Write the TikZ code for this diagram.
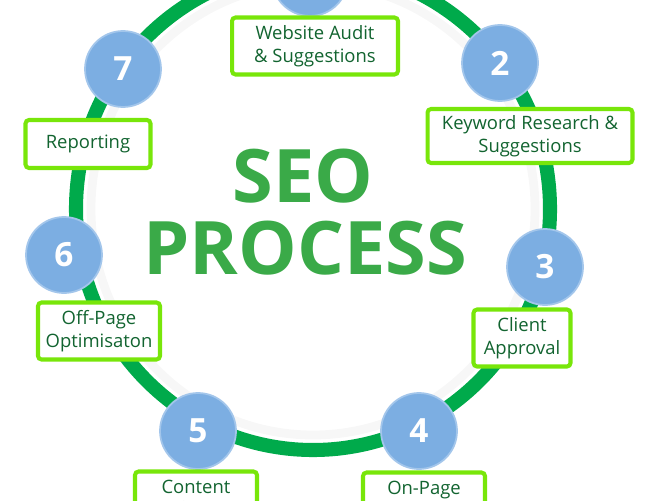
\documentclass[tikz,border=0pt]{standalone}
\usepackage{fontspec}
\setmainfont{Open Sans}
\usepackage{tikz}
\usetikzlibrary{positioning}
\definecolor{seogreen}{RGB}{0,170,75}
\definecolor{titlegreen}{RGB}{58,170,72}
\definecolor{textgreen}{RGB}{18,100,48}
\definecolor{boxlime}{RGB}{120,230,10}
\definecolor{stepblue}{RGB}{124,174,226}

\begin{document}
\begin{tikzpicture}[x=0.02cm,y=-0.02cm,
    stepbox/.style={draw=boxlime,line width=2.3pt,fill=white,rounded corners=2pt,
        text=textgreen,align=center,font=\fontsize{10.5}{13}\selectfont,inner sep=0pt},
    stepdot/.style={circle,fill=stepblue,draw=stepblue!70!white,line width=1pt,
        minimum size=1.52cm,text=white,font=\fontsize{19}{19}\selectfont\bfseries},
    title/.style={text=titlegreen,font=\fontsize{42}{42}\selectfont\bfseries}]
    \useasboundingbox (0,0) rectangle (648,500);
    \clip (0,0) rectangle (648,500);

    % shadow ring
    \draw[gray!6,line width=5pt] (313,209) ellipse [x radius=222,y radius=226];
    % main ring
    \draw[seogreen,line width=8pt] (313,209) ellipse [x radius=237,y radius=241];

    % numbered steps
    \node[stepdot] (n1) at (310,-22) {1};
    \node[stepdot] (n2) at (500,63) {2};
    \node[stepdot] (n3) at (545,267) {3};
    \node[stepdot] (n4) at (419,431) {4};
    \node[stepdot] (n5) at (198,431) {5};
    \node[stepdot] (n6) at (64,255) {6};
    \node[stepdot] (n7) at (123,69) {7};

    % step labels
    \node[stepbox,minimum width=3.32cm,minimum height=1.14cm] (b1) at (315,46) {Website Audit\\\& Suggestions};
    \node[stepbox,minimum width=4.1cm,minimum height=1.08cm] (b2) at (530,136) {Keyword Research \&\\Suggestions};
    \node[stepbox,minimum width=1.94cm,minimum height=1.14cm] (b3) at (522,338) {Client\\Approval};
    \node[stepbox,minimum width=2.44cm,minimum height=1.14cm] (b4) at (424,501) {On-Page\\Optimisation};
    \node[stepbox,minimum width=2.44cm,minimum height=1.14cm] (b5) at (196,500) {Content\\Development};
    \node[stepbox,minimum width=2.44cm,minimum height=1.14cm] (b6) at (99,331) {Off-Page\\Optimisaton};
    \node[stepbox,minimum width=2.5cm,minimum height=0.96cm] (b7) at (88,144) {Reporting};

    % title
    \node[title] (seo) at (303,176) {SEO};
    \node[title] (process) at (305,248) {PROCESS};
\end{tikzpicture}
\end{document}
